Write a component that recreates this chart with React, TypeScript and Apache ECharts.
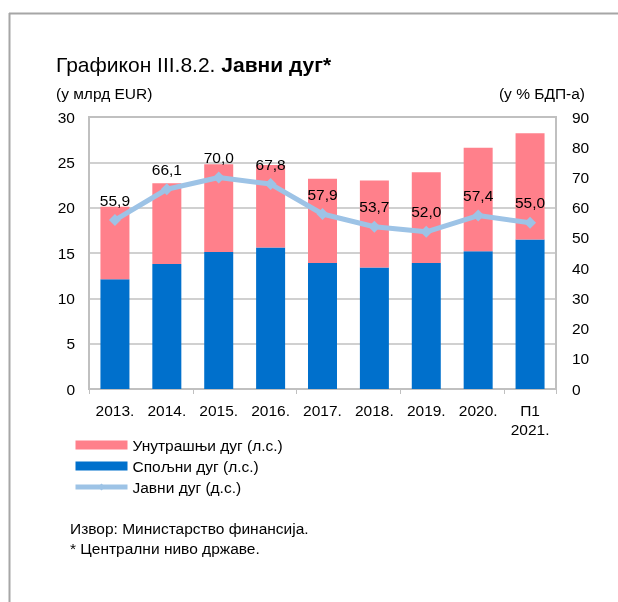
import React, { useEffect, useRef } from "react";
import * as echarts from "echarts";

const categories = ["2013.", "2014.", "2015.", "2016.", "2017.", "2018.", "2019.", "2020.", "П1\n2021."];
const externalDebt = [12.1, 13.8, 15.1, 15.6, 13.9, 13.4, 13.9, 15.2, 16.5];
const internalDebt = [8.0, 8.9, 9.7, 9.1, 9.3, 9.6, 10.0, 11.4, 11.7];
const publicDebtGdp = [55.9, 66.1, 70.0, 67.8, 57.9, 53.7, 52.0, 57.4, 55.0];

const leftAxisMax = 30;
const leftAxisStep = 5;
const rightAxisMax = 90;
const rightAxisStep = 10;

const seriesNames = ["Унутрашњи дуг (л.с.)", "Спољни дуг (л.с.)", "Јавни дуг (д.с.)"];
const titleNormal = "Графикон III.8.2. ";
const titleBold = "Јавни дуг*";
const leftUnit = "(у млрд EUR)";
const rightUnit = "(у % БДП-а)";
const sourceNote = "Извор: Министарство финансија.";
const footNote = "* Централни ниво државе.";

const FONT = "'Liberation Sans', Arial, sans-serif";
const FS = 15.5;

export default function App() {
  const ref = useRef<HTMLDivElement>(null);
  useEffect(() => {
    if (!ref.current) return;
    const chart = echarts.init(ref.current, undefined, { renderer: "svg" });
    chart.setOption({
      animation: false,
      textStyle: { fontFamily: FONT, color: "#000" },
      title: {
        left: 51,
        top: 49,
        text: `{n|${titleNormal}}{b|${titleBold}}`,
        textStyle: {
          rich: {
            n: { fontFamily: FONT, fontSize: 21, fontWeight: "normal", color: "#000" },
            b: { fontFamily: FONT, fontSize: 21, fontWeight: "bold", color: "#000" },
          },
        },
      },
      graphic: [
        { type: "line", shape: { x1: 9, y1: 13.5, x2: 618, y2: 13.5 }, style: { stroke: "#a6a6a6", lineWidth: 2 } },
        { type: "line", shape: { x1: 9.5, y1: 13, x2: 9.5, y2: 602 }, style: { stroke: "#a6a6a6", lineWidth: 2 } },
        { type: "text", left: 56, top: 85, style: { text: leftUnit, font: `${FS}px ${FONT}`, fill: "#000" } },
        { type: "text", right: 33, top: 85, style: { text: rightUnit, font: `${FS}px ${FONT}`, fill: "#000" } },
        { type: "text", left: 70, top: 520, style: { text: sourceNote, font: `${FS}px ${FONT}`, fill: "#000" } },
        { type: "text", left: 70, top: 540, style: { text: footNote, font: `${FS}px ${FONT}`, fill: "#000" } },
      ],
      legend: {
        orient: "vertical",
        left: 68,
        top: 432,
        itemWidth: 52,
        itemHeight: 9,
        itemGap: 5,
        textStyle: { fontFamily: FONT, fontSize: FS, color: "#000" },
        data: [
          { name: seriesNames[0], icon: "rect" },
          { name: seriesNames[1], icon: "rect" },
          { name: seriesNames[2], lineStyle: { width: 5, color: "#9dc3e6" } },
        ],
      },
      grid: {
        left: 89,
        top: 117,
        right: 62,
        bottom: 213,
        show: true,
        borderColor: "#c0c0c0",
        borderWidth: 2,
      },
      xAxis: {
        type: "category",
        data: categories,
        axisLine: { lineStyle: { color: "#c0c0c0", width: 2 } },
        axisTick: { show: true, interval: 1, length: 5, lineStyle: { color: "#c0c0c0", width: 1 } },
        axisLabel: { fontFamily: FONT, fontSize: FS, color: "#000", margin: 12, lineHeight: 19, interval: 0 },
      },
      yAxis: [
        {
          type: "value",
          min: 0,
          max: leftAxisMax,
          interval: leftAxisStep,
          axisLine: { show: false },
          axisTick: { show: false },
          axisLabel: { fontFamily: FONT, fontSize: FS, color: "#000", margin: 14 },
          splitLine: { lineStyle: { color: "#c0c0c0", width: 1.5 } },
        },
        {
          type: "value",
          min: 0,
          max: rightAxisMax,
          interval: rightAxisStep,
          position: "right",
          axisLine: { show: false },
          axisTick: { show: false },
          axisLabel: { fontFamily: FONT, fontSize: FS, color: "#000", margin: 16 },
          splitLine: { show: false },
        },
      ],
      series: [
        {
          name: seriesNames[1],
          type: "bar",
          stack: "debt",
          data: externalDebt,
          barWidth: 29,
          itemStyle: { color: "#0070cc" },
        },
        {
          name: seriesNames[0],
          type: "bar",
          stack: "debt",
          data: internalDebt,
          barWidth: 29,
          itemStyle: { color: "#ff808b" },
        },
        {
          name: seriesNames[2],
          type: "line",
          yAxisIndex: 1,
          data: publicDebtGdp,
          symbol: "diamond",
          symbolSize: 12,
          lineStyle: { color: "#9dc3e6", width: 5 },
          itemStyle: { color: "#9dc3e6" },
          label: {
            show: true,
            position: "top",
            distance: 6,
            fontFamily: FONT,
            fontSize: FS,
            color: "#000",
            formatter: (p: any) => p.value.toFixed(1).replace(".", ","),
          },
        },
      ],
    });
    return () => chart.dispose();
  }, []);
  return <div ref={ref} style={{ position: "fixed", left: 0, top: 0, width: 618, height: 602 }} />;
}
